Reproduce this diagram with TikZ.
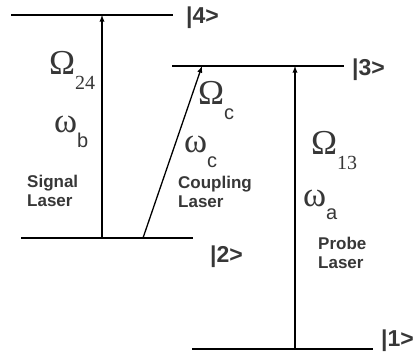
\documentclass[tikz,border=0pt]{standalone}
\usepackage{fontspec}
\setmainfont{Liberation Sans}
\newfontfamily\greekserif{Liberation Serif}
\usepackage{xcolor}
\usetikzlibrary{arrows}
\usetikzlibrary{math}
\definecolor{labelgray}{RGB}{55,55,55}

\tikzset{
level/.style={line width=1.6pt},
trans/.style={-latex, line width=1.3pt},
ket/.style={anchor=base west, inner sep=0pt, text=labelgray, font=\fontsize{23}{27}\selectfont\bfseries},
laser/.style={anchor=base west, inner sep=0pt, align=left, text=labelgray, font=\fontsize{17}{19.5}\selectfont\bfseries},
rabi/.style={anchor=base west, inner sep=0pt, text=labelgray}
}
\newcommand{\bigsym}[1]{{\greekserif\fontsize{35}{35}\selectfont #1}}
\newcommand{\lowsub}[2]{\raisebox{#1}{\fontsize{20}{20}\selectfont #2}}

\begin{document}
\begin{tikzpicture}[x=1pt,y=1pt]
\tikzmath{
\Ea=7;
\Eb=118;
\Ec=290;
\Ed=341;
}
\useasboundingbox (0,0) rectangle (413,356);

\coordinate (L1a) at (192,\Ea);
\coordinate (L1b) at (373,\Ea);
\coordinate (L2a) at (21,\Eb);
\coordinate (L2b) at (193,\Eb);
\coordinate (L3a) at (172,\Ec);
\coordinate (L3b) at (344,\Ec);
\coordinate (L4a) at (11,\Ed);
\coordinate (L4b) at (173,\Ed);

\draw[level] (L1a) -- (L1b);
\draw[level] (L2a) -- (L2b);
\draw[level] (L3a) -- (L3b);
\draw[level] (L4a) -- (L4b);

\coordinate (S2) at (102,\Eb);
\coordinate (S4) at (102,\Ed);
\coordinate (C2) at (143,\Eb);
\coordinate (C3) at (202,\Ec);
\coordinate (P1) at (295,\Ea);
\coordinate (P3) at (295,\Ec);
\draw[trans] (S2) -- (S4);
\draw[trans] (C2) -- (C3);
\draw[trans] (P1) -- (P3);

\node[ket] (k4) at (186,332) {|4>};
\node[ket] (k3) at (352,280) {|3>};
\node[ket] (k2) at (210,93) {|2>};
\node[ket] (k1) at (381,9) {|1>};

\node[rabi] (om24) at (49,281) {\bigsym{Ω}\lowsub{-15pt}{\greekserif 24}};
\node[rabi] (wb) at (54,223) {\bigsym{ω}\lowsub{-15pt}{b}};
\node[rabi] (omc) at (198,251) {\bigsym{Ω}\lowsub{-15pt}{c}};
\node[rabi] (wc) at (184,203) {\bigsym{ω}\lowsub{-15pt}{c}};
\node[rabi] (om13) at (311,201) {\bigsym{Ω}\lowsub{-15pt}{\greekserif 13}};
\node[rabi] (wa) at (303,149) {\bigsym{ω}\lowsub{-13pt}{a}};

\node[laser] (sig) at (27,149) {Signal\\Laser};
\node[laser] (cpl) at (178,148) {Coupling\\Laser};
\node[laser] (prb) at (318,87) {Probe\\Laser};
\end{tikzpicture}
\end{document}
